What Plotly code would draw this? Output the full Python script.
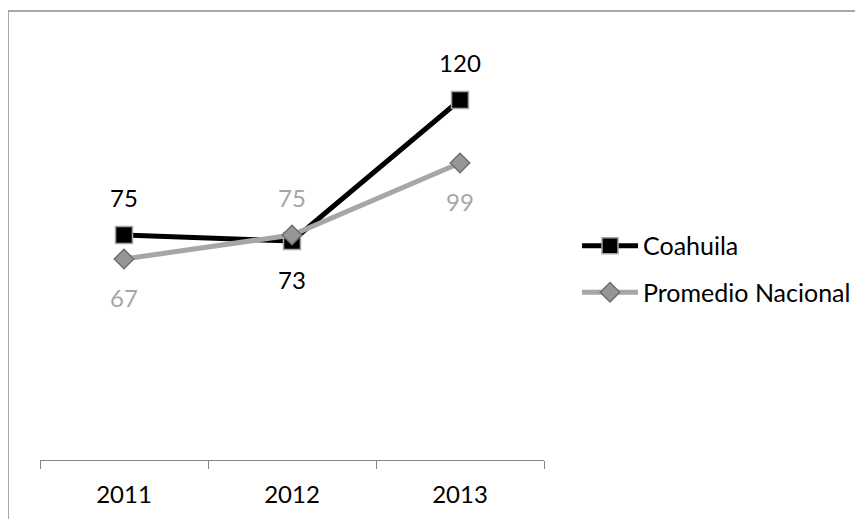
import plotly.graph_objects as go

years = ["2011", "2012", "2013"]
coahuila = [75, 73, 120]
promedio = [67, 75, 99]
coahuila_label_pos = ["top", "bottom", "top"]
promedio_label_pos = ["bottom", "top", "bottom"]

FONT = "Lato"
FS = 24

fig = go.Figure()
fig.add_trace(go.Scatter(
    x=years, y=coahuila, name="Coahuila", mode="lines+markers", legendgroup="a",
    line=dict(color="#000000", width=5),
    marker=dict(symbol="square", size=17, color="#000000",
                line=dict(color="#a6a6a6", width=1.5)),
))
fig.add_trace(go.Scatter(
    x=years, y=promedio, name="Promedio Nacional", mode="lines+markers", legendgroup="b",
    line=dict(color="#a6a6a6", width=5),
    marker=dict(symbol="diamond", size=15, color="#969696",
                line=dict(color="#6f6f6f", width=1.5)),
))

# data labels: invisible markers used only to push text away from the point
for ys, poss, col in [(coahuila, coahuila_label_pos, "#000000"),
                      (promedio, promedio_label_pos, "#a6a6a6")]:
    fig.add_trace(go.Scatter(
        x=years, y=ys, mode="markers+text", showlegend=False, hoverinfo="skip",
        text=[str(v) for v in ys],
        textposition=[p + " center" for p in poss],
        textfont=dict(family=FONT, size=FS, color=col),
        marker=dict(size=[33 if p == "top" else 46 for p in poss],
                    color="rgba(0,0,0,0)", line=dict(width=0)),
    ))

fig.add_shape(type="rect", xref="paper", yref="paper",
              x0=(8 - 40) / 504, x1=(890 - 40) / 504,
              y0=(460 - 560) / 420, y1=(460 - 11) / 420,
              line=dict(color="#8c8c8c", width=1.5), fillcolor="rgba(0,0,0,0)",
              layer="below")

fig.update_layout(
    width=863, height=519,
    margin=dict(l=32, r=327, t=32, b=67),
    paper_bgcolor="white", plot_bgcolor="white",
    font=dict(family=FONT, size=FS, color="#000000"),
    showlegend=True,
    legend=dict(x=(569 - 32) / 504, y=0.4548, xanchor="left", yanchor="middle",
                font=dict(family=FONT, size=25, color="#000000"),
                tracegroupgap=11, itemwidth=56,
                bgcolor="rgba(0,0,0,0)"),
    xaxis=dict(type="category", range=[-0.5, 2.5], showline=True, linecolor="#868686",
               linewidth=1.2, ticks="outside", ticklen=8, tickcolor="#868686", tickwidth=1.2,
               tickson="boundaries", showgrid=False, zeroline=False,
               tickfont=dict(family=FONT, size=FS, color="#000000"),
               ticklabelstandoff=13),
    yaxis=dict(range=[0, 140], visible=False, showgrid=False, zeroline=False),
)

fig.write_html("out.html")
